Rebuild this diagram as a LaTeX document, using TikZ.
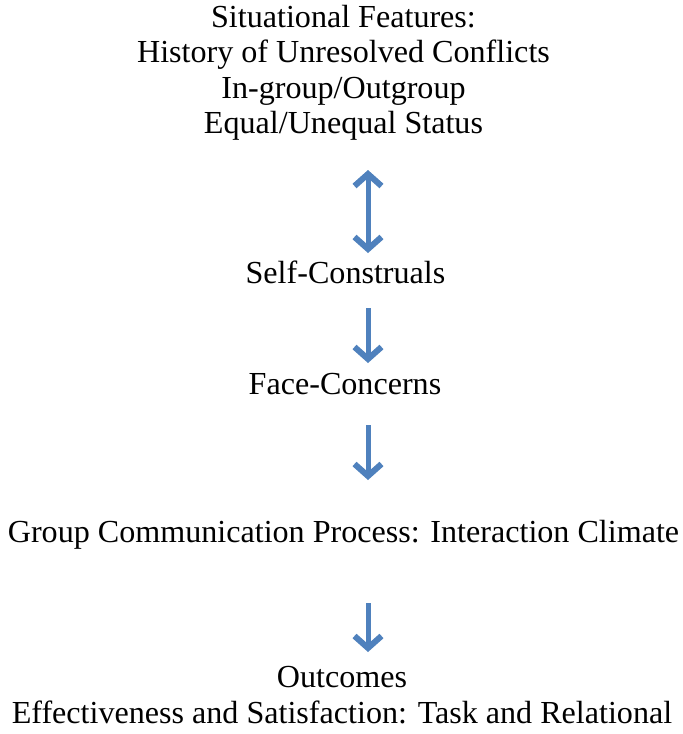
\documentclass[tikz,border=0pt]{standalone}
\usepackage{fontspec}
\setmainfont{Liberation Serif}
\usetikzlibrary{arrows.meta}
\definecolor{arrblue}{HTML}{4F81BD}
\tikzset{
  lbl/.style={anchor=base, inner sep=0pt, align=center, font=\fontsize{32.1}{35.5}\selectfont},
  tipb/.tip={Straight Barb[length=12pt,width=27pt,line width=6pt]},
  arr/.style={draw=arrblue, line width=5pt, -tipb},
  biarr/.style={draw=arrblue, line width=5pt, tipb-tipb}
}
\begin{document}
\begin{tikzpicture}[x=1pt,y=-1pt]
\useasboundingbox (0,0) rectangle (683,734);
\node[lbl] (sit) at (343.5,133.5) {Situational Features:\\History of Unresolved Conflicts\\In-group/Outgroup\\Equal/Unequal Status};
\node[lbl] (self) at (345.5,283) {Self-Construals};
\node[lbl] (face) at (345,394) {Face-Concerns};
\node[lbl] (grp) at (343.5,542) {Group Communication Process: Interaction Climate};
\node[lbl] (out) at (342,723) {Outcomes\\Effectiveness and Satisfaction: Task and Relational};
\coordinate (a1t) at (368,170);
\coordinate (a1b) at (368,253);
\coordinate (a2t) at (368,308);
\coordinate (a2b) at (368,363);
\coordinate (a3t) at (368,425);
\coordinate (a3b) at (368,480);
\coordinate (a4t) at (368,603);
\coordinate (a4b) at (368,652);
\draw[biarr] (a1t) -- (a1b);
\draw[arr] (a2t) -- (a2b);
\draw[arr] (a3t) -- (a3b);
\draw[arr] (a4t) -- (a4b);
\end{tikzpicture}
\end{document}
